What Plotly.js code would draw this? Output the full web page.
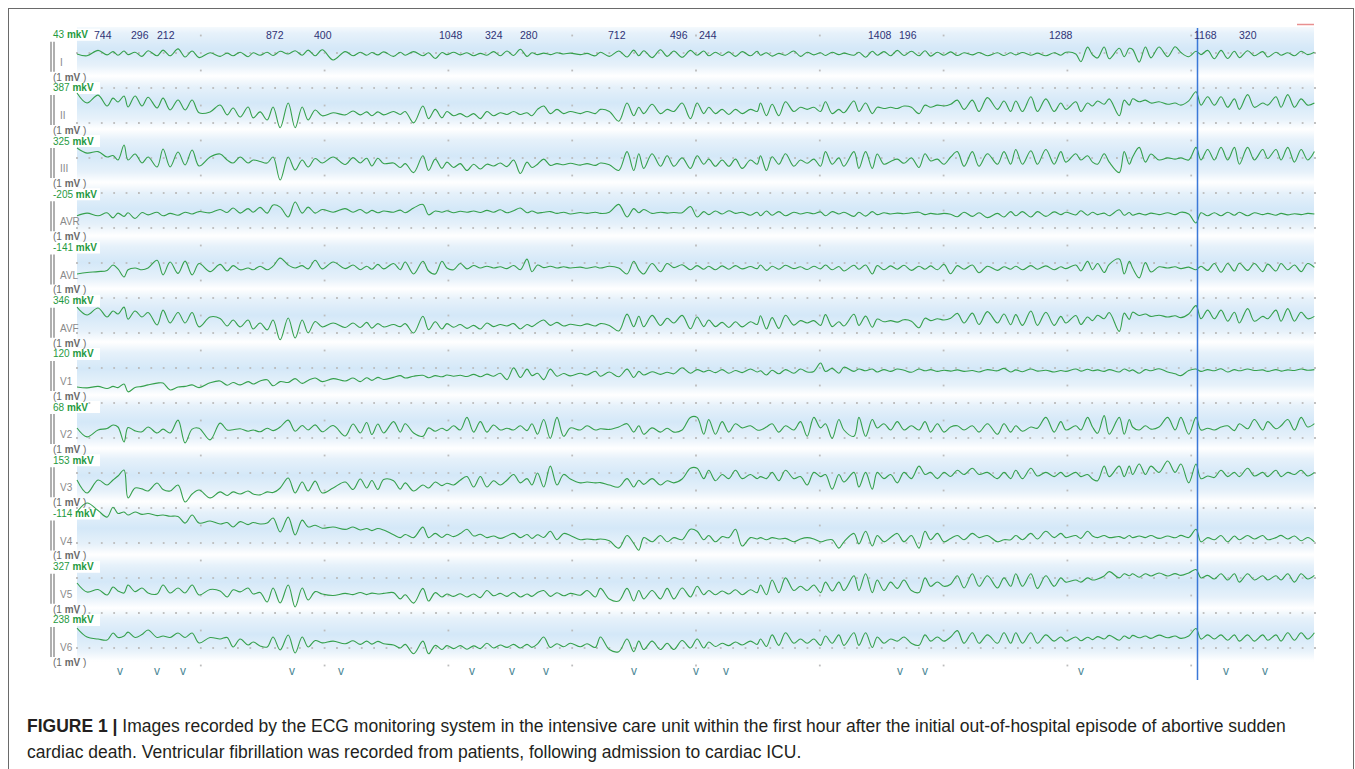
<!DOCTYPE html>
<html><head><meta charset="utf-8">
<script src="https://cdn.plot.ly/plotly-3.0.1.min.js"></script>
<style>
html,body{margin:0;padding:0;background:#fff;overflow:hidden;width:1355px;height:769px;}
#bands{position:absolute;left:77px;top:27px;width:1237px;height:635px;
background-image:linear-gradient(to bottom,#ffffff 0%,#e6f1fa 20%,#d4e8f8 50%,#e6f1fa 80%,#ffffff 100%);
background-size:100% 53.2px;background-position:0 -4.2px;background-repeat:repeat-y;}
#frame{position:absolute;left:8px;top:8px;width:1346px;height:800px;border:1.5px solid #6a6a6a;box-sizing:border-box;}
#chart{position:absolute;left:0;top:0;width:1355px;height:769px;}
</style></head><body>
<div id="frame"></div><div id="bands"></div><div id="chart"></div>
<script>
// ---------------- data ----------------
const leadNames = ['I','II','III','AVR','AVL','AVF','V1','V2','V3','V4','V5','V6'];
const offsetLabels = [43, 387, 325, -205, -141, 346, 120, 68, 153, -114, 327, 238]; // mkV
const rrLabelsMs = [744, 296, 212, 872, 400, 1048, 324, 280, 712, 496, 244, 1408, 196, 1288, 1168, 320];
const beatTimesS = [0.35, 0.65, 0.86, 1.74, 2.13, 3.19, 3.51, 3.79, 4.50, 5.00, 5.24, 6.65, 6.85, 8.11, 9.28, 9.60];
// times (ms) of the VF wave turning points, shared by all leads
const tExtMs = [
 0,81,170,243,291,331,380,412,469,525,574,647,695,752,816,873,930,986,1075,1156,1213,1261,1318,1382,1423,1479,1536,1584,1641,1706,1762,1819,1867,1924,1981,2069,2166,2230,2288,2340,2382,2430,2477,
 2557,2611,2651,2719,2794,2840,2894,2948,2988,3042,3096,3150,3204,3258,3311,3365,3419,3473,3527,3581,3635,3675,3720,3770,3823,3877,3931,3985,4066,4120,4187,4228,4300,4376,4443,4497,4538,4578,4645,4713,4767,4821,4888,4955,
 5009,5063,5103,5157,5211,5265,5319,5373,5440,5494,5521,5569,5615,5669,5723,5790,5844,5898,5952,6006,6046,6100,6154,6195,6276,6316,6370,6424,6464,6518,6572,6626,6680,6740,6801,6850,6895,6950,7003,7057,7111,7165,7232,7286,7354,7435,7488,
 7542,7583,7637,7705,7758,7826,7893,7947,7988,8068,8109,8163,8203,8244,8297,8338,8419,8459,8500,8527,8580,8630,8675,8740,8810,8870,8917,8980,9039,9079,9133,9187,9241,9295,9349,9389,9456,9510,9578,9618,9685,9726,9780,9834,9888,9941,9995];
// lead amplitudes (mkV) at those times, relative to each lead's drawing baseline
const leadI = [
 0,-60,120,-30,80,-40,100,-20,60,-80,110,-60,130,-60,170,-100,100,-120,40,-80,30,-60,60,-90,40,-40,60,-50,90,0,110,-40,130,-60,140,-200,80,-60,60,-40,50,-30,70,
 -80,60,-40,80,-60,40,-150,50,-20,60,-30,40,-60,20,-40,80,-60,100,-50,160,-80,40,-20,30,-20,40,0,30,-20,20,-60,60,-80,100,-100,130,-60,110,-120,140,-80,100,-110,120,
 -40,100,-60,60,-50,70,-80,80,-60,90,-40,40,-70,20,-40,100,-80,60,-30,40,-50,60,-20,30,-40,60,-110,90,-40,80,-60,120,-50,90,-60,110,-70,60,-40,70,-50,40,-30,50,-60,40,-50,
 40,-30,50,-40,30,-60,40,-40,60,0,-260,230,-30,-130,235,-160,190,-90,190,150,-270,235,-130,235,-90,240,50,-90,90,-20,120,-160,120,-150,90,-120,110,-60,80,-100,60,-40,40,-60,90,-20,60];
const leadII = [
 400,66,330,-33,230,100,300,-66,300,-33,260,-100,230,-165,165,-165,165,-260,-230,0,-330,-100,-400,-66,-430,-230,-500,-66,-760,66,-760,-66,-500,-165,-360,-260,-330,-200,-330,-230,-360,-230,-330,
 -216,-315,-216,-596,-34,-455,-146,-427,-216,-357,-287,-399,-287,-455,-216,-357,-258,-315,-216,-315,-258,-357,-146,-34,-287,-146,-287,-216,-287,-216,-287,-146,-216,-540,65,-357,-76,-287,23,-287,-146,-216,65,-455,
 65,-287,-76,-287,-146,-315,-146,-287,-146,-216,65,-357,23,-357,107,-216,-76,-146,-76,-216,107,-287,-146,-258,135,-216,65,-287,-76,-118,-76,-118,-34,-76,-287,-5,-76,-5,-34,23,163,-146,163,-216,247,-146,135,
 -216,135,-216,275,-216,205,-216,65,-146,107,-216,65,-34,135,23,205,-357,163,-5,205,107,163,65,107,23,65,-5,135,444,-5,275,-5,275,-76,205,-146,346,-76,65,-5,275,-76,346,-76,205,-5,65];
const leadIII = [
 400,230,280,100,150,0,500,0,200,-100,100,-233,366,-233,266,-166,333,-200,100,200,0,-100,100,-100,0,-50,-100,100,-666,100,-333,0,-233,50,-100,100,-150,80,-100,60,-200,60,-120,
 -100,-250,-120,-420,140,-350,28,-280,-70,-250,-120,-350,-140,-300,-140,-200,-100,-220,0,-450,-70,-250,-140,28,-180,-120,-160,-110,-170,-120,-180,-100,-160,-350,280,-350,210,-280,210,-210,140,-210,70,-280,
 140,-140,28,-210,0,-210,28,-280,0,-140,140,-350,110,-140,210,-210,0,-110,28,-210,280,-140,70,-210,280,-280,280,-280,200,-140,-50,28,-110,70,-250,210,-30,28,-140,100,280,-210,280,-210,210,-140,280,
 -140,350,-140,310,-140,350,-140,280,-70,210,0,140,-70,-140,210,-70,-420,280,-140,100,420,-70,200,0,70,28,70,0,420,0,350,0,420,0,420,-140,420,0,350,50,350,0,420,-70,350,0,280];
const leadAVR = [
 -60,30,-60,40,-130,30,-80,40,-150,50,-30,60,-60,20,-40,60,0,80,40,150,50,200,30,180,60,220,30,300,230,-100,400,30,230,30,150,60,180,60,150,30,120,40,100,
 60,130,40,200,320,-28,100,60,110,40,90,60,100,50,120,60,140,40,110,200,40,100,30,60,80,20,60,0,50,20,60,20,60,320,-100,180,40,150,20,60,30,50,40,250,
 -100,80,-20,100,0,110,20,60,-40,60,-60,100,-40,80,-60,60,0,50,10,70,-60,80,0,60,-80,60,-70,80,-20,40,0,30,10,40,60,-20,20,-10,20,-10,-90,60,-80,40,-120,20,-100,
 80,-60,80,-100,80,-80,70,-20,60,-30,110,-40,60,-20,30,-60,140,-40,50,-40,20,-30,30,-20,40,-20,60,0,-300,40,-60,40,-60,60,-40,60,-60,40,-20,20,-40,20,-30,10,-20,20,0];
const leadAVL = [
 -200,-150,-120,-80,100,-30,-300,-60,0,-60,0,260,-230,200,-180,230,-230,150,-120,120,-100,80,-60,0,-60,60,-60,60,330,100,0,80,-30,260,-30,200,-20,100,-60,60,-40,120,-30,
 150,-56,200,-200,225,-100,-200,225,0,-56,150,-28,84,0,60,0,40,-20,84,-56,295,-126,100,14,60,0,40,0,30,-10,40,0,60,0,-200,225,-60,-200,150,-126,150,14,110,-56,
 80,-40,60,-60,70,-40,80,-30,50,-20,100,-80,60,-40,90,-20,40,-50,60,-30,100,-60,50,-100,90,-40,100,-200,80,-60,70,-40,90,-80,60,-40,70,-60,120,-190,80,-40,100,-160,60,-80,40,
 -40,60,-60,80,-40,70,-60,40,-20,100,-100,220,-60,150,-150,120,300,-200,220,0,-330,180,-130,40,0,40,-20,30,-60,60,-80,150,-140,150,-100,160,-80,150,-120,130,-100,150,-60,100,-120,150,20];
const leadAVF = [
 430,165,400,100,300,200,430,30,300,100,250,-165,330,-100,250,-100,250,-230,100,50,-200,0,-230,0,-300,-100,-330,0,-660,66,-600,0,-430,-50,-230,-100,-250,-100,-250,-80,-270,-120,-230,
 -150,-220,-120,-435,126,-322,-60,-300,-120,-240,-150,-280,-180,-300,-100,-220,-150,-200,-120,-300,-150,-220,-100,0,-180,-80,-200,-140,-190,-130,-200,-120,-180,-365,196,-224,126,-224,154,-182,56,-100,154,-294,
 100,-220,0,-220,-80,-250,-60,-230,-60,-150,140,-300,80,-280,160,-170,-20,-100,-20,-180,180,-220,-60,-200,190,-180,130,-240,30,-60,-20,-70,10,-40,-260,60,-20,40,0,60,220,-100,230,-150,280,-100,200,
 -160,180,-180,300,-180,260,-180,120,-100,150,-150,100,-20,160,40,250,-380,230,20,260,150,200,120,160,100,140,80,200,480,40,330,40,330,-40,260,-100,380,-40,120,40,330,-40,380,-40,260,40,120];
const leadV1 = [
 -400,-430,-380,-450,-380,-420,-300,-560,-420,-380,-330,-270,-270,-500,-400,-380,-330,-420,-260,-200,-340,-250,-330,-220,-300,-200,-160,-360,-220,-250,-120,-280,-180,-100,-220,-120,-200,-100,-220,-90,-180,-80,-150,
 -80,-20,-100,-40,-10,-90,-20,-60,0,-40,-10,-50,20,-60,30,-40,60,-154,238,-84,196,-20,60,-154,196,-40,50,-30,60,0,126,-40,100,-60,196,-84,120,0,110,20,90,40,240,60,
 180,100,160,80,180,60,150,80,200,100,140,0,160,40,180,60,200,100,120,400,120,220,60,260,120,200,140,200,100,180,120,200,160,90,200,140,180,120,160,130,170,120,150,100,180,140,220,
 100,170,110,200,130,160,100,150,120,200,130,190,140,170,120,180,100,200,130,170,60,180,140,210,100,40,-20,150,200,120,180,140,210,100,180,140,200,150,170,120,180,130,170,150,200,160,180];
const leadV2 = [
 66,-230,0,50,166,100,-400,80,-30,-60,100,-100,30,-100,330,-430,30,60,-330,230,0,10,40,-40,0,-60,60,-20,100,330,-40,150,0,170,-60,150,-200,200,-100,250,-150,200,-100,
 280,-70,210,-100,-210,70,-40,60,-20,140,0,420,-70,280,-70,168,0,60,0,140,-20,210,-140,350,-280,420,-210,70,0,140,0,40,20,100,210,-70,140,-140,70,-70,60,-70,0,420,
 420,-140,350,-140,280,-70,210,70,140,0,0,100,210,-70,140,0,280,-210,420,70,210,-280,350,0,-210,420,-210,350,70,210,0,280,0,140,0,280,-70,210,-70,100,140,0,140,-70,210,-140,210,
 -70,140,-40,100,60,420,-70,280,0,140,0,420,100,-110,480,-140,420,-140,350,100,0,140,30,100,420,0,420,-140,420,0,60,0,100,140,-20,210,40,350,0,280,40,140,350,0,420,100,210];
const leadV3 = [
 66,-366,66,-100,66,200,400,-530,-200,-230,-300,-33,-250,-300,-100,-666,-400,-266,-530,-330,-450,-330,-400,-300,-400,-430,-330,-350,-200,133,-366,0,-300,30,-366,-200,0,-250,100,-200,50,-250,80,
 42,-238,-28,-300,-100,-200,0,-120,-40,-100,60,182,-168,182,-168,42,-100,60,252,-28,112,-100,300,-168,530,-100,252,100,-28,0,-28,-20,-100,-168,112,-168,60,-80,112,-100,42,-28,100,460,
 460,112,390,42,250,112,390,112,250,112,180,112,320,42,390,112,182,-100,320,180,250,-238,252,0,320,-168,320,-238,320,112,252,-28,320,112,530,252,320,112,320,182,390,250,460,250,320,112,320,
 112,390,112,460,200,320,180,320,180,320,180,250,100,42,530,180,530,180,530,250,600,250,530,320,700,320,600,-28,600,112,200,150,390,180,320,180,460,200,320,180,390,180,320,250,390,200,320];
const leadV4 = [
 700,1000,750,530,860,650,700,600,700,620,650,580,600,560,550,330,600,330,400,300,350,200,380,280,350,300,330,500,33,530,-66,430,200,260,160,200,120,200,100,150,80,150,100,
 -60,-154,-50,-154,196,-154,-14,-150,-40,-120,-20,126,-100,-40,-154,-100,-180,-100,-14,-154,-50,-180,-60,-150,56,-224,-14,-84,-224,-200,-224,-200,-260,-504,-84,-350,-574,-154,-294,-84,-294,-154,-224,126,
 56,-224,-84,-294,-120,-154,126,-434,-154,-200,-154,-224,-154,-200,-180,-294,-200,-154,-200,-294,-250,-224,-504,-294,-14,-364,56,-434,-84,-294,-150,-14,-294,-84,-504,56,-224,-14,-294,-180,-84,-224,-14,-154,-84,-294,-224,
 -224,-84,-224,-14,-200,56,-154,-14,-154,-84,-180,56,-100,-154,-84,-154,-120,-180,-84,-154,-100,-154,-84,-180,-100,-160,-80,-150,126,-294,-154,-224,-84,-294,-100,-224,-84,-200,-84,-224,-154,-80,-200,-100,-260,-150,-294];
const leadV5 = [
 166,-133,-50,-233,33,-100,-166,100,-120,0,-166,-200,100,-166,0,-166,100,-233,-50,-100,-300,-60,-130,0,-200,-150,-466,0,-500,100,-633,0,-400,-120,-200,-250,-180,-220,-150,-220,-170,-200,-180,
 -154,-364,-224,-504,-14,-434,-154,-300,-200,-280,-190,-300,-200,-320,-84,-260,-180,-280,-150,-300,-200,-280,-150,-84,-280,-160,-260,-180,-240,-84,-300,-14,-364,-434,-14,-434,-84,-364,-84,-364,-14,-364,0,-300,
 56,-224,-84,-224,-100,-200,-60,-224,-60,-154,100,-224,266,-154,336,-84,56,-84,100,-154,196,-100,196,-84,406,-84,476,-154,266,-84,196,-14,266,-84,-150,336,56,200,56,126,406,0,476,56,406,0,336,
 56,476,56,476,-14,406,56,336,196,266,196,336,266,300,400,546,336,476,406,476,360,476,400,500,400,480,420,500,616,336,420,300,476,266,476,196,476,266,406,266,406,266,476,196,476,300,420];
const leadV6 = [
 466,166,100,66,300,150,200,330,150,250,400,150,200,150,300,150,300,-33,150,100,150,-166,100,-100,0,-130,-166,166,-266,233,-366,166,-166,50,-30,30,-60,40,-80,30,-70,20,-60,
 -100,-200,-80,-392,28,-392,-112,-250,-120,-220,-120,-240,-130,-220,-42,-200,-100,-180,-80,-200,-80,-180,-60,168,-180,-60,-160,-42,-160,-60,-180,168,-252,-322,98,-322,28,-252,28,-252,-42,-252,50,-200,
 98,-200,0,-150,-40,-120,0,-100,30,-80,100,-150,238,-112,308,-42,98,-42,98,-112,200,-42,238,-112,308,-112,308,-182,168,-42,98,28,168,-42,-112,238,28,168,28,168,378,-42,308,-42,238,-42,308,
 -42,308,-42,308,-42,238,28,168,28,168,40,160,80,180,100,220,60,200,120,220,140,200,120,230,140,200,120,200,448,98,238,98,238,60,238,28,238,28,238,60,238,28,308,60,308,98,308];
const leads = [leadI, leadII, leadIII, leadAVR, leadAVL, leadAVF, leadV1, leadV2, leadV3, leadV4, leadV5, leadV6];

// ---------------- layout constants (page geometry) ----------------
const W = 1355, H = 769;
const X0 = 77, PX_PER_S = 123.8, PX_PER_MV = 30;
const X = px => (px - X0) / PX_PER_S;
const Y = px => -px / PX_PER_MV;
const ROW = 53.2, LABEL_Y0 = 34.7;
const baselinesPx = [54,105,160,214,268,320,375,430,482,533,588,642];

const traces = [];
// dotted grid
const gx = [], gy = [];
for (let yy = 53; yy <= 650; yy += 35)
  for (let j = 0; j <= 100; j++) { gx.push(X(X0 + 12.38 * j)); gy.push(Y(yy)); }
for (let yy = 35.5; yy <= 667; yy += 35)
  for (let j = 1; j <= 9; j++) { gx.push(X(X0 + 123.8 * j)); gy.push(Y(yy)); }
traces.push({type:'scatter', mode:'markers', x:gx, y:gy, hoverinfo:'skip',
  marker:{size:1.8, color:'#bcbcbc', symbol:'square', line:{width:0}}});

leads.forEach((vals, i) => {
  traces.push({type:'scatter', mode:'lines', name:leadNames[i],
    x: tExtMs.map(t => t / 1000),
    y: vals.map(v => Y(baselinesPx[i]) + v / 1000),
    line:{color:'#35a04c', width:1.1, shape:'spline', smoothing:1},
    hoverinfo:'skip'});
});

const ann = [], shapes = [];
const FONT = 'Liberation Sans, Arial, sans-serif';
leadNames.forEach((nm, i) => {
  const L = LABEL_Y0 + ROW * i;
  shapes.push({type:'rect', layer:'below', x0:X(48), x1:X(100), y0:Y(L - 6), y1:Y(L + 6),
    fillcolor:'#ffffff', line:{width:0}});
  ann.push({x:X(50.5), y:Y(L), xanchor:'left', yanchor:'middle', showarrow:false,
    text: offsetLabels[i] + ' <b>mkV</b>', font:{family:FONT, size:10, color:'#1f9a3f'}});
  ann.push({x:X(50.5), y:Y(L + 42.3), xanchor:'left', yanchor:'middle', showarrow:false,
    text:'(1 <b>mV</b> )', font:{family:FONT, size:10, color:'#6a6a6a'}});
  ann.push({x:X(57.5), y:Y(L + 27.5), xanchor:'left', yanchor:'middle', showarrow:false,
    text:nm, font:{family:FONT, size:10, color:'#8a8a8a'}});
  [51, 54].forEach(px => shapes.push({type:'line', x0:X(px), x1:X(px), y0:Y(L + 7), y1:Y(L + 37),
    line:{color:'#7a7a7a', width:1.2}}));
});
beatTimesS.forEach((t, k) => {
  ann.push({x: t - 6.5 / PX_PER_S, y:Y(35), xanchor:'right', yanchor:'middle', showarrow:false,
    text:String(rrLabelsMs[k]), font:{family:FONT, size:10.5, color:'#2f3376'}});
  ann.push({x: t, y:Y(671), xanchor:'center', yanchor:'middle', showarrow:false,
    text:'v', font:{family:FONT, size:12, color:'#4b8795'}});
});
// cursor line and small red mark
shapes.push({type:'line', x0:X(1197.5), x1:X(1197.5), y0:Y(28), y1:Y(680), line:{color:'#3b78d8', width:1.5}});
shapes.push({type:'line', x0:X(1297), x1:X(1314), y0:Y(24.5), y1:Y(24.5), line:{color:'#e89090', width:1.5}});

// caption
const CAP = 'Liberation Sans, Arial, sans-serif';
ann.push({x:X(25), y:Y(726), xanchor:'left', yanchor:'middle', showarrow:false,
  text:'<b>FIGURE 1 |</b> Images recorded by the ECG monitoring system in the intensive care unit within the first hour after the initial out-of-hospital episode of abortive sudden',
  font:{family:CAP, size:17.5, color:'#231f20'}});
ann.push({x:X(25), y:Y(752), xanchor:'left', yanchor:'middle', showarrow:false,
  text:'cardiac death. Ventricular fibrillation was recorded from patients, following admission to cardiac ICU.',
  font:{family:CAP, size:17.5, color:'#231f20'}});

const layout = {
  width:W, height:H, margin:{l:0, r:0, t:0, b:0, pad:0},
  paper_bgcolor:'rgba(0,0,0,0)', plot_bgcolor:'rgba(0,0,0,0)',
  showlegend:false, hovermode:false,
  xaxis:{range:[X(0), X(W)], visible:false, fixedrange:true},
  yaxis:{range:[Y(H), Y(0)], visible:false, fixedrange:true},
  annotations:ann, shapes:shapes
};
Plotly.newPlot('chart', traces, layout, {staticPlot:true, displayModeBar:false});
</script></body></html>
